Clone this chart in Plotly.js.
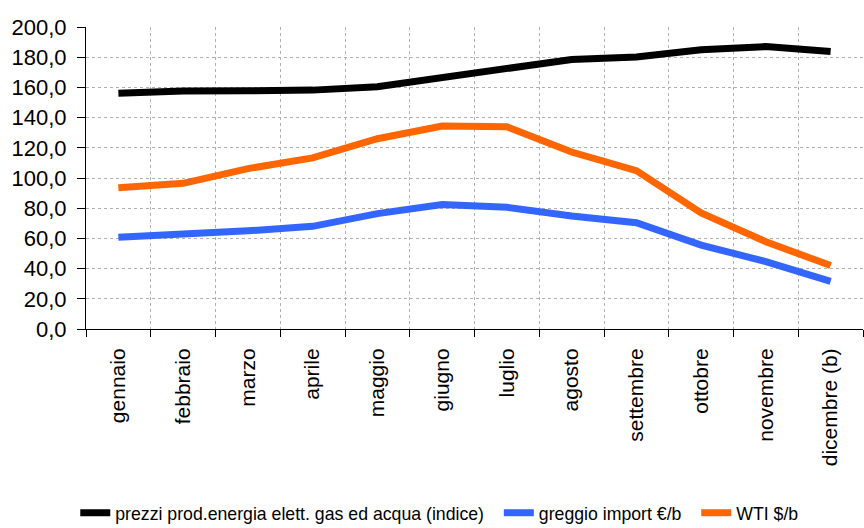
<!DOCTYPE html>
<html>
<head>
<meta charset="utf-8">
<script src="https://cdn.plot.ly/plotly-3.0.1.min.js"></script>
<style>html,body{margin:0;padding:0;background:#fff;}#chart{width:864px;height:528px;}</style>
</head>
<body>
<div id="chart"></div>
<script>
const months = ["gennaio","febbraio","marzo","aprile","maggio","giugno","luglio","agosto","settembre","ottobre","novembre","dicembre (b)"];
const prezziEnergia = [156.1,157.6,157.8,158.2,160.5,166.5,173.0,178.5,180.2,185.0,187.0,183.7];
const greggioImport = [60.7,62.6,65.0,68.0,76.4,82.4,80.6,74.8,70.4,55.6,44.6,31.6];
const wti = [93.6,96.5,106.2,113.3,126.0,134.4,133.9,117.2,104.9,76.9,57.8,42.0];

const font = "Liberation Sans, Arial, sans-serif";
const traces = [
  {x: months, y: prezziEnergia, name: "prezzi prod.energia elett. gas ed acqua (indice)\u00A0\u00A0", type: "scatter", mode: "lines", line: {color: "#000000", width: 7}},
  {x: months, y: greggioImport, name: "greggio import €/b\u00A0\u00A0", type: "scatter", mode: "lines", line: {color: "#3366FF", width: 7}},
  {x: months, y: wti, name: "WTI $/b", type: "scatter", mode: "lines", line: {color: "#FF6600", width: 7}}
];
const layout = {
  width: 864, height: 528,
  margin: {l: 86, r: 1, t: 27, b: 199, autoexpand: false},
  paper_bgcolor: "#fff", plot_bgcolor: "#fff",
  font: {family: font, color: "#000"},
  separators: ",.",
  showlegend: true,
  legend: {orientation: "h", xref: "container", yref: "container", x: 0.509, xanchor: "center", y: 0.028, yanchor: "middle", font: {size: 17.7, family: font}, itemwidth: 30, tracegroupgap: 0},
  xaxis: {
    type: "category", range: [-0.5, 11.5], tickson: "boundaries",
    showgrid: true, gridcolor: "#b0b0b0", griddash: "dot", gridwidth: 1,
    showline: true, linecolor: "#000", linewidth: 1,
    ticks: "outside", ticklen: 7, tickcolor: "#000",
    tickangle: -90, tickfont: {size: 21, family: font}, zeroline: false,
    ticklabelstandoff: 10, automargin: false
  },
  yaxis: {
    range: [0, 200], tickvals: [0,20,40,60,80,100,120,140,160,180,200], tickformat: ".1f",
    showgrid: true, gridcolor: "#b0b0b0", griddash: "dot", gridwidth: 1,
    showline: true, linecolor: "#000", linewidth: 1,
    ticks: "outside", ticklen: 8, tickcolor: "#000",
    tickfont: {size: 22, family: font}, zeroline: false,
    ticklabelstandoff: 6, automargin: false
  }
};
Plotly.newPlot("chart", traces, layout, {displayModeBar: false, staticPlot: true});
</script>
</body>
</html>
